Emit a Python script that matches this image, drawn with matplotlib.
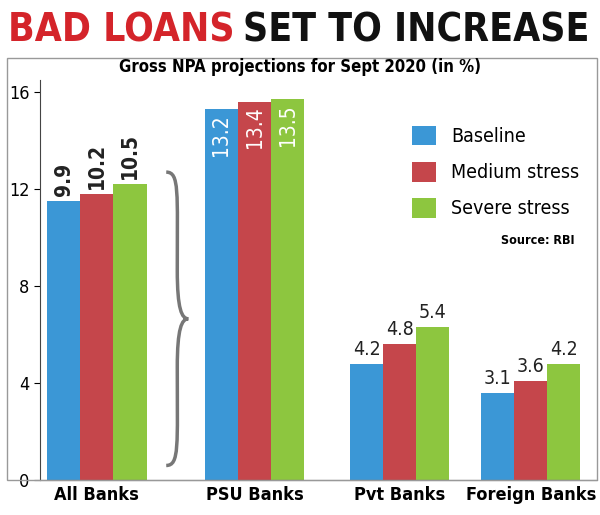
import matplotlib.pyplot as plt
from matplotlib.path import Path
from matplotlib.patches import PathPatch, Rectangle

plt.rcParams["font.family"] = "DejaVu Sans"
plt.rcParams["font.stretch"] = "condensed"

groups = ["All Banks", "PSU Banks", "Pvt Banks", "Foreign Banks"]
series = ["Baseline", "Medium stress", "Severe stress"]
# bar heights as drawn in the picture (axis scale)
baseline = [11.5, 15.3, 4.8, 3.6]
medium = [11.8, 15.6, 5.6, 4.1]
severe = [12.2, 15.7, 6.3, 4.8]
# printed labels
lab_base = ["9.9", "13.2", "4.2", "3.1"]
lab_med = ["10.2", "13.4", "4.8", "3.6"]
lab_sev = ["10.5", "13.5", "5.4", "4.2"]
colors = ["#3b97d6", "#c5464b", "#8dc63f"]

xpos = [0, 1, 1.92, 2.75]
w = 0.21

fig = plt.figure(figsize=(6, 5.15), dpi=100)
fig.patch.set_facecolor("white")
fig.patches.append(Rectangle((7/600, 35/515), 590/600, 422/515, transform=fig.transFigure,
                             fill=False, edgecolor="#999999", lw=1))
ax = fig.add_axes([40/600, 35/515, 557/600, 400/515])

for k, (vals, labs) in enumerate([(baseline, lab_base), (medium, lab_med), (severe, lab_sev)]):
    xs = [x + (k - 1) * w for x in xpos]
    ax.bar(xs, vals, width=w, color=colors[k], label=series[k])
    for i, (x, v, t) in enumerate(zip(xs, vals, labs)):
        if i == 0:
            ax.text(x, v + 0.2, t, rotation=90, ha="center", va="bottom", fontsize=15,
                    fontweight="bold", color="#222222")
        elif i == 1:
            ax.text(x, v - 0.2, t, rotation=90, ha="center", va="top", fontsize=15,
                    color="white")
        else:
            ax.text(x, v + 0.2, t, ha="center", va="bottom", fontsize=14, color="#222222")

# brace
bx, bw, y0, y1 = 0.44, 0.14, 0.6, 12.7
ym = (y0 + y1) / 2
verts = [(bx, y1), (bx + bw * 0.6, y1), (bx + bw * 0.5, y1 - 0.8), (bx + bw * 0.5, ym + 2),
         (bx + bw * 0.5, ym + 0.4), (bx + bw * 0.7, ym), (bx + bw, ym),
         (bx + bw * 0.7, ym), (bx + bw * 0.5, ym - 0.4), (bx + bw * 0.5, ym - 2),
         (bx + bw * 0.5, y0 + 0.8), (bx + bw * 0.6, y0), (bx, y0)]
codes = [Path.MOVETO] + [Path.CURVE4] * 12
ax.add_patch(PathPatch(Path(verts, codes), fill=False, edgecolor="#777777", lw=2.5))

ax.set_xlim(-0.36, 3.17)
ax.set_ylim(0, 16.5)
ax.set_yticks([0, 4, 8, 12, 16])
ax.set_xticks(xpos)
ax.set_xticklabels(groups, fontsize=13, fontweight="bold")
ax.tick_params(axis="y", labelsize=13, length=4)
ax.tick_params(axis="x", length=0, pad=4)
for s in ["top", "right"]:
    ax.spines[s].set_visible(False)
ax.spines["left"].set_color("#444444")
ax.spines["bottom"].set_color("#444444")

ax.legend(loc="upper right", bbox_to_anchor=(1.0, 0.93), frameon=False,
          handlelength=1.2, handleheight=1.2, labelspacing=0.8, prop={"size": 14})
ax.text(0.96, 0.59, "Source: RBI", transform=ax.transAxes, ha="right", fontsize=9,
        fontweight="bold")

t1 = fig.text(8/600, 1 - 30/515, "BAD LOANS", color="#d4242a", fontsize=28, fontweight="bold",
              va="center")
fig.canvas.draw()
bb = t1.get_window_extent()
fig.text(bb.x1 / fig.bbox.width + 8/600, 1 - 30/515, "SET TO INCREASE", color="#111111",
         fontsize=28, fontweight="bold", va="center")
fig.text(0.5, 1 - 72/515, "Gross NPA projections for Sept 2020 (in %)", ha="center", fontsize=12,
         fontweight="bold")

fig.savefig("out.png", dpi=100)
